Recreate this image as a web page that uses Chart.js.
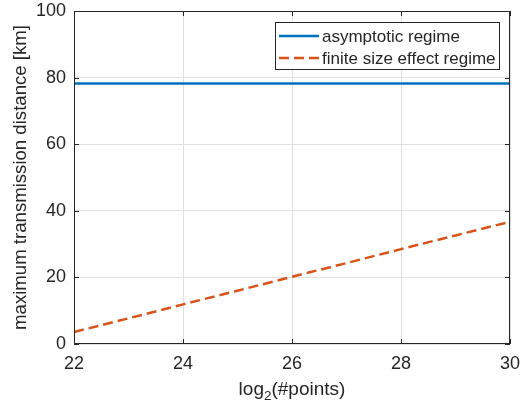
<!DOCTYPE html>
<html>
<head>
<meta charset="utf-8">
<script src="https://cdn.jsdelivr.net/npm/chart.js@4.4.0/dist/chart.umd.min.js"></script>
<style>
  html, body { margin: 0; padding: 0; background: #fff; }
  #wrap { width: 532px; height: 408px; }
</style>
</head>
<body>
<div id="wrap"><canvas id="grafica"></canvas></div>
<script>
// datos
const puntosLog2 = [22, 23, 24, 25, 26, 27, 28, 29, 30];
const asintotico = [78.2, 78.2, 78.2, 78.2, 78.2, 78.2, 78.2, 78.2, 78.2];
const tamanoFinito = [3.6, 7.7, 11.9, 16.0, 20.2, 24.3, 28.5, 32.6, 36.7];
const ticksX = [22, 24, 26, 28, 30];
const ticksY = [0, 20, 40, 60, 80, 100];

const colorTexto = '#262626';
const fuente = '"Liberation Sans", Arial, sans-serif';

// marco tipo MATLAB, ticks hacia dentro, titulo x con subindice y leyenda dentro
const marcoYLeyenda = {
    id: 'marcoYLeyenda',
    afterDraw(chart) {
        const ctx = chart.ctx;
        const a = chart.chartArea;
        const sx = chart.scales.x, sy = chart.scales.y;
        ctx.save();
        ctx.strokeStyle = colorTexto;
        ctx.lineWidth = 1;
        ctx.strokeRect(a.left + 0.5, a.top + 0.5, a.right - a.left - 1, a.bottom - a.top - 1);
        const largo = 5;
        ctx.beginPath();
        ticksX.forEach(v => {
            const px = Math.round(sx.getPixelForValue(v)) + 0.5;
            ctx.moveTo(px, a.bottom); ctx.lineTo(px, a.bottom - largo);
            ctx.moveTo(px, a.top); ctx.lineTo(px, a.top + largo);
        });
        ticksY.forEach(v => {
            const py = Math.round(sy.getPixelForValue(v)) + 0.5;
            ctx.moveTo(a.left, py); ctx.lineTo(a.left + largo, py);
            ctx.moveTo(a.right, py); ctx.lineTo(a.right - largo, py);
        });
        ctx.stroke();

        // titulo del eje x: log_2(#points)
        ctx.fillStyle = colorTexto;
        ctx.textBaseline = 'alphabetic';
        ctx.textAlign = 'left';
        const fGrande = '19px ' + fuente, fChica = '13.5px ' + fuente;
        ctx.font = fGrande;
        const w1 = ctx.measureText('log').width;
        const w3 = ctx.measureText('(#points)').width;
        ctx.font = fChica;
        const w2 = ctx.measureText('2').width;
        let xx = (a.left + a.right) / 2 - (w1 + w2 + w3) / 2;
        const base = 395;
        ctx.font = fGrande;
        ctx.fillText('log', xx, base);
        xx += w1;
        ctx.font = fChica;
        ctx.fillText('2', xx, base + 5);
        xx += w2;
        ctx.font = fGrande;
        ctx.fillText('(#points)', xx, base);

        // leyenda
        const x0 = 275, y0 = 22, w = 224, h = 47;
        ctx.fillStyle = '#fff';
        ctx.fillRect(x0, y0, w, h);
        ctx.strokeStyle = colorTexto;
        ctx.lineWidth = 1;
        ctx.strokeRect(x0 + 0.5, y0 + 0.5, w, h);
        ctx.font = '17px ' + fuente;
        ctx.textBaseline = 'middle';
        chart.data.datasets.forEach((ds, i) => {
            const yy = y0 + 14 + i * 22;
            ctx.strokeStyle = ds.borderColor;
            ctx.lineWidth = ds.borderWidth;
            ctx.setLineDash(ds.borderDash || []);
            ctx.beginPath();
            ctx.moveTo(x0 + 4, yy);
            ctx.lineTo(x0 + 44, yy);
            ctx.stroke();
            ctx.setLineDash([]);
            ctx.fillStyle = colorTexto;
            ctx.fillText(ds.label, x0 + 47, yy + 1);
        });
        ctx.restore();
    }
};

const ctx = document.getElementById('grafica').getContext('2d');
window.miGrafica = new Chart(ctx, {
    type: 'line',
    data: {
        labels: puntosLog2,
        datasets: [{
            label: 'asymptotic regime',
            data: puntosLog2.map((x, i) => ({ x: x, y: asintotico[i] })),
            borderColor: '#0072BD',
            borderWidth: 2.5,
            pointRadius: 0,
            fill: false
        }, {
            label: 'finite size effect regime',
            data: puntosLog2.map((x, i) => ({ x: x, y: tamanoFinito[i] })),
            borderColor: '#D95319',
            borderWidth: 2.5,
            borderDash: [10, 5],
            pointRadius: 0,
            fill: false
        }]
    },
    options: {
        responsive: true,
        maintainAspectRatio: false,
        animation: false,
        layout: { padding: { top: 11, right: 22, left: 0, bottom: 0 } },
        plugins: {
            legend: { display: false },
            tooltip: { enabled: false }
        },
        scales: {
            x: {
                type: 'linear',
                min: 22,
                max: 30,
                afterBuildTicks: s => { s.ticks = ticksX.map(v => ({ value: v })); },
                afterFit: s => { s.height = 64; s.paddingLeft = 0; s.paddingRight = 0; },
                grid: { color: '#dfdfdf', drawTicks: false },
                border: { display: false },
                ticks: { color: colorTexto, font: { family: fuente, size: 18 }, padding: 9, maxRotation: 0 }
            },
            y: {
                min: 0,
                max: 100,
                afterBuildTicks: s => { s.ticks = ticksY.map(v => ({ value: v })); },
                afterFit: s => { s.width = 74; s.paddingTop = 0; s.paddingBottom = 0; },
                grid: { color: '#dfdfdf', drawTicks: false },
                border: { display: false },
                ticks: { color: colorTexto, font: { family: fuente, size: 18 }, padding: 8 },
                title: {
                    display: true,
                    text: 'maximum transmission distance [km]',
                    color: colorTexto,
                    font: { family: fuente, size: 18.6 },
                    padding: { top: 10, bottom: 0 }
                }
            }
        }
    },
    plugins: [marcoYLeyenda]
});
</script>
</body>
</html>
